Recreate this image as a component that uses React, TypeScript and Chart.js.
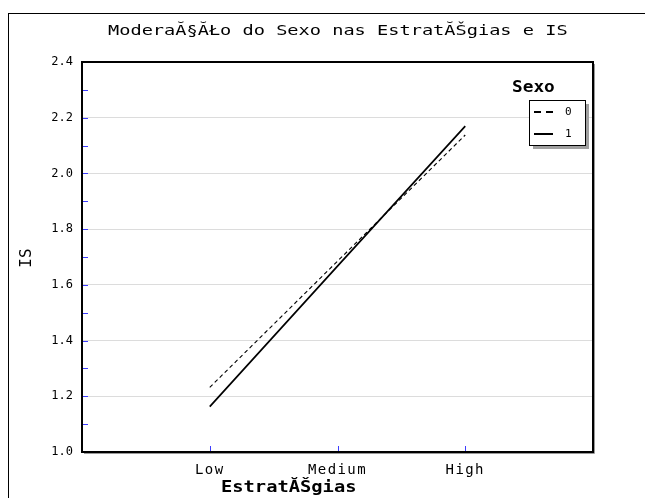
import React, { useEffect, useRef } from 'react';
import { Chart, registerables } from 'chart.js';

Chart.register(...registerables);

const chartTitle = 'ModeraĂ§ĂŁo do Sexo nas EstratĂŠgias e IS';
const xTitle = 'EstratĂŠgias';
const yTitle = 'IS';
const legendTitle = 'Sexo';
const categories = ['Low', 'Medium', 'High'];
const seriesNames = ['0', '1'];
const sexo0 = [1.232, 1.685, 2.138];
const sexo1 = [1.163, 1.667, 2.17];
const yTickValues = [1.0, 1.1, 1.2, 1.3, 1.4, 1.5, 1.6, 1.7, 1.8, 1.9, 2.0, 2.1, 2.2, 2.3, 2.4];
const yTickLabels = ['1.0', '', '1.2', '', '1.4', '', '1.6', '', '1.8', '', '2.0', '', '2.2', '', '2.4'];

const MONO = '"DejaVu Sans Mono", monospace';
const TICK_BLUE = '#3c3cff';

function drawWide(ctx: any, text: string, x: number, y: number, font: string, sx: number) {
  ctx.save();
  ctx.translate(x, y);
  ctx.scale(sx, 1);
  ctx.font = font;
  ctx.fillText(text, 0, 0);
  ctx.restore();
}

const decorPlugin = {
  id: 'decor',
  beforeDraw(chart: any) {
    const xs = chart.scales.x;
    if (xs && !xs._lsPatched) {
      const orig = xs.drawLabels;
      xs.drawLabels = function (area: any) {
        const c = this.ctx;
        c.save();
        c.letterSpacing = '1.4px';
        orig.call(this, area);
        c.restore();
      };
      xs._lsPatched = true;
    }
  },
  afterDraw(chart: any) {
    const ctx = chart.ctx;
    const { left, right, top, bottom } = chart.chartArea;
    const xs = chart.scales.x;
    const ys = chart.scales.y;
    ctx.save();
    // blue ticks
    ctx.strokeStyle = TICK_BLUE;
    ctx.lineWidth = 1;
    ctx.beginPath();
    ys.ticks.forEach((t: any) => {
      const y = Math.round(ys.getPixelForValue(t.value)) + 0.5;
      ctx.moveTo(left, y);
      ctx.lineTo(left + 6, y);
    });
    xs.ticks.forEach((t: any) => {
      const x = Math.round(xs.getPixelForValue(t.value)) + 0.5;
      ctx.moveTo(x, bottom);
      ctx.lineTo(x, bottom - 6);
    });
    ctx.stroke();
    // plot border with shadow
    ctx.strokeStyle = '#999';
    ctx.lineWidth = 1;
    ctx.beginPath();
    ctx.moveTo(right + 1.5, top + 2);
    ctx.lineTo(right + 1.5, bottom + 1.5);
    ctx.lineTo(left + 2, bottom + 1.5);
    ctx.stroke();
    ctx.strokeStyle = '#000';
    ctx.lineWidth = 2;
    ctx.strokeRect(left, top, right - left, bottom - top);

    ctx.fillStyle = '#000';
    ctx.textBaseline = 'alphabetic';
    ctx.textAlign = 'left';

    // chart title
    drawWide(ctx, chartTitle, 99, 21, '14px ' + MONO, 1.33);

    // x axis title
    drawWide(ctx, xTitle, 212, 478, 'bold 15px ' + MONO, 1.25);

    // y axis title
    ctx.save();
    ctx.translate(22, 244);
    ctx.rotate(-Math.PI / 2);
    ctx.font = '16px ' + MONO;
    ctx.textAlign = 'center';
    ctx.fillText(yTitle, 0, 0);
    ctx.restore();

    // legend
    drawWide(ctx, legendTitle, 503, 78, 'bold 16px ' + MONO, 1.11);
    const bx = 520, by = 86, bw = 56, bh = 45;
    ctx.fillStyle = '#a0a0a0';
    ctx.fillRect(bx + 4, by + 4, bw, bh);
    ctx.fillStyle = '#fff';
    ctx.fillRect(bx, by, bw, bh);
    ctx.strokeStyle = '#000';
    ctx.lineWidth = 1;
    ctx.strokeRect(bx + 0.5, by + 0.5, bw, bh);
    ctx.font = '11px ' + MONO;
    ctx.textBaseline = 'middle';
    chart.data.datasets.forEach((ds: any, i: number) => {
      const ly = by + 12 + i * 22;
      ctx.strokeStyle = '#000';
      ctx.lineWidth = 2;
      ctx.setLineDash(i === 0 ? [7, 5] : []);
      ctx.beginPath();
      ctx.moveTo(bx + 5, ly);
      ctx.lineTo(bx + 24, ly);
      ctx.stroke();
      ctx.setLineDash([]);
      ctx.fillStyle = '#000';
      ctx.fillText(ds.label, bx + 36, ly);
    });
    ctx.restore();
  },
};

export default function App() {
  const ref = useRef<HTMLCanvasElement | null>(null);
  useEffect(() => {
    if (!ref.current) return;
    const chart = new Chart(ref.current, {
      type: 'line',
      data: {
        datasets: [
          {
            label: seriesNames[0],
            data: categories.map((_, i) => ({ x: i + 1, y: sexo0[i] })),
            borderColor: '#000',
            borderWidth: 1.1,
            borderDash: [4, 3],
            pointRadius: 0,
            fill: false,
            tension: 0,
          },
          {
            label: seriesNames[1],
            data: categories.map((_, i) => ({ x: i + 1, y: sexo1[i] })),
            borderColor: '#000',
            borderWidth: 1.7,
            pointRadius: 0,
            fill: false,
            tension: 0,
          },
        ],
      },
      options: {
        responsive: false,
        animation: false,
        devicePixelRatio: 1,
        layout: { padding: { left: 0, top: 48, right: 60, bottom: 0 } },
        plugins: {
          legend: { display: false },
          title: { display: false },
          tooltip: { enabled: false },
        },
        scales: {
          x: {
            type: 'linear',
            min: 0,
            max: categories.length + 1,
            afterBuildTicks: (s: any) => {
              s.ticks = categories.map((_, i) => ({ value: i + 1 }));
            },
            afterFit: (s: any) => {
              s.height = 46;
            },
            ticks: {
              callback: (v: any) => categories[Math.round(v) - 1] ?? '',
              font: { family: MONO, size: 14 },
              color: '#000',
              padding: 10,
              maxRotation: 0,
              autoSkip: false,
            },
            grid: { display: false, drawTicks: false },
            border: { display: false },
          },
          y: {
            type: 'linear',
            min: yTickValues[0],
            max: yTickValues[yTickValues.length - 1],
            afterBuildTicks: (s: any) => {
              s.ticks = yTickValues.map((v) => ({ value: v }));
            },
            afterFit: (s: any) => {
              s.width = 73;
            },
            ticks: {
              callback: (v: any) => {
                const i = yTickValues.findIndex((t) => Math.abs(t - v) < 1e-6);
                return i >= 0 ? yTickLabels[i] : '';
              },
              font: { family: MONO, size: 12 },
              color: '#000',
              padding: 9,
              autoSkip: false,
            },
            grid: {
              drawTicks: false,
              lineWidth: 1,
              color: (c: any) => {
                const i = yTickValues.findIndex((t) => Math.abs(t - c.tick?.value) < 1e-6);
                return i > 0 && i < yTickValues.length - 1 && yTickLabels[i] !== '' ? '#dcdcdc' : 'rgba(0,0,0,0)';
              },
            },
            border: { display: false },
          },
        },
      },
      plugins: [decorPlugin],
    } as any);
    return () => chart.destroy();
  }, []);

  return (
    <div style={{ paddingTop: 5 }}>
      <div
        style={{
          width: 645,
          height: 485,
          boxSizing: 'border-box',
          borderLeft: '1px solid #000',
          borderTop: '1px solid #000',
          overflow: 'hidden',
        }}
      >
        <canvas ref={ref} width={644} height={484} style={{ display: 'block', width: 644, height: 484 }} />
      </div>
    </div>
  );
}
